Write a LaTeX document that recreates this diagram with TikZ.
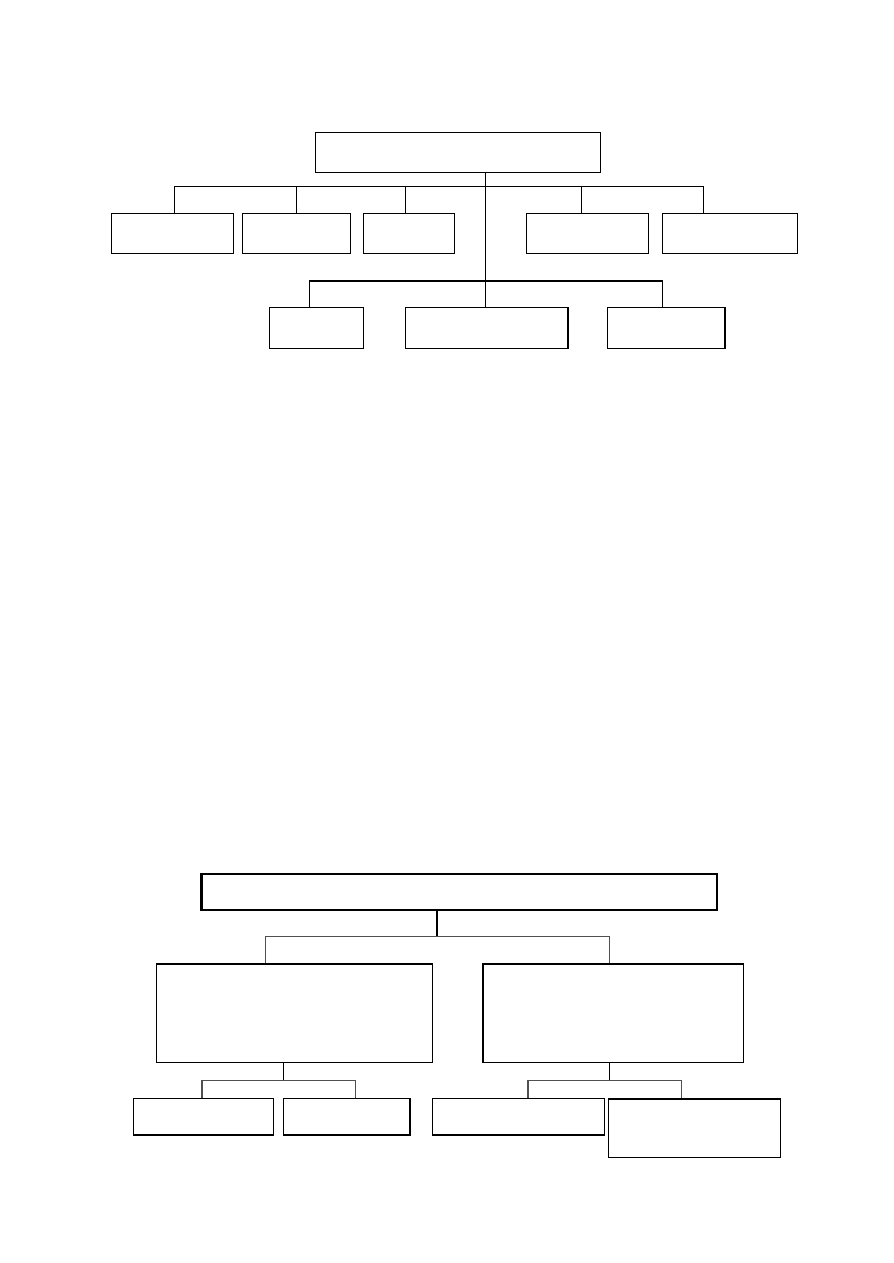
\documentclass[tikz,border=0pt]{standalone}
\usetikzlibrary{calc}
\tikzset{
  box/.style 2 args={draw, line width=0.9, inner sep=0pt, minimum width=#1*0.75pt, minimum height=#2*0.75pt},
  heavy/.style={line width=1.8},
  link/.style={line width=0.8},
  greylink/.style={line width=0.8, color={rgb, 255:red, 80; green, 80; blue, 80 }},
}
\begin{document}
\begin{tikzpicture}[x=0.75pt,y=0.75pt,yscale=-1,xscale=1]
\useasboundingbox (0,0) rectangle (893,1263);

%Upper chart: boxes
\node[box={285}{40}] (head) at (457.75,152.7) {};
\node[box={122.5}{40}] (ta) at (172.45,233.3) {};
\node[box={108}{40}] (tb) at (296.25,233.3) {};
\node[box={90.6}{40}] (tc) at (409.1,233.3) {};
\node[box={122.5}{40}] (td) at (587.45,233.3) {};
\node[box={135.5}{40}] (te) at (729.85,233.3) {};
\node[box={94.7}{41}] (sa) at (316.45,327.8) {};
\node[box={162.8}{41}] (sb) at (486.5,327.8) {};
\node[box={117.2}{41}] (sc) at (666.4,327.8) {};
\coordinate (busA) at (485.8,186.7);
\coordinate (busB) at (485.8,281);

%Upper chart: links
\draw[link] (head.south -| busA) -- (busA) -- (busB);
\draw[link] ([xshift=1.2pt]ta.north) |- (busA) -| ([xshift=-19.8pt]te.north);
\draw[link] (tb.north) -- (tb.north |- busA);
\draw[link] ([xshift=-3pt]tc.north) -- ([xshift=-3pt]tc.north |- busA);
\draw[link] ([xshift=-4.8pt]td.north) -- ([xshift=-4.8pt]td.north |- busA);
\draw[link] ([xshift=-5.2pt]sa.north) |- (busB) -| ([xshift=-3.2pt]sc.north);
\draw[link] (sb.north -| busB) -- (busB);

%Lower chart: boxes
\node[box={515.5}{36}, heavy] (main) at (459.35,892) {};
\node[box={275.8}{98.7}] (ma) at (294.4,1013.35) {};
\node[box={260.7}{98.7}] (mb) at (613.35,1013.35) {};
\node[box={140.1}{36.7}] (la) at (203.75,1116.65) {};
\node[box={126.8}{36.7}] (lb) at (346.6,1116.65) {};
\node[box={171.8}{36.7}] (lc) at (518.2,1116.65) {};
\node[box={171.8}{58.4}, anchor=north] (ld) at (694.7,1098.3) {};
\coordinate (busC) at (437,936.7);
\coordinate (busD) at (283.2,1080.7);
\coordinate (busE) at (609.7,1080.7);

%Lower chart: links
\draw[link] (main.south -| busC) -- (busC);
\draw[greylink] ([xshift=-21.9pt]ma.north) |- (busC) -| ([xshift=-2.7pt]mb.north);
\draw[link] (ma.south -| busD) -- (busD);
\draw[greylink] ([xshift=-1.3pt]la.north) |- (busD) -| ([xshift=6.9pt]lb.north);
\draw[link] (mb.south -| busE) -- (busE);
\draw[greylink] ([xshift=7.35pt]lc.north) |- (busE) -| ([xshift=-9.6pt]ld.north);

\end{tikzpicture}
\end{document}
